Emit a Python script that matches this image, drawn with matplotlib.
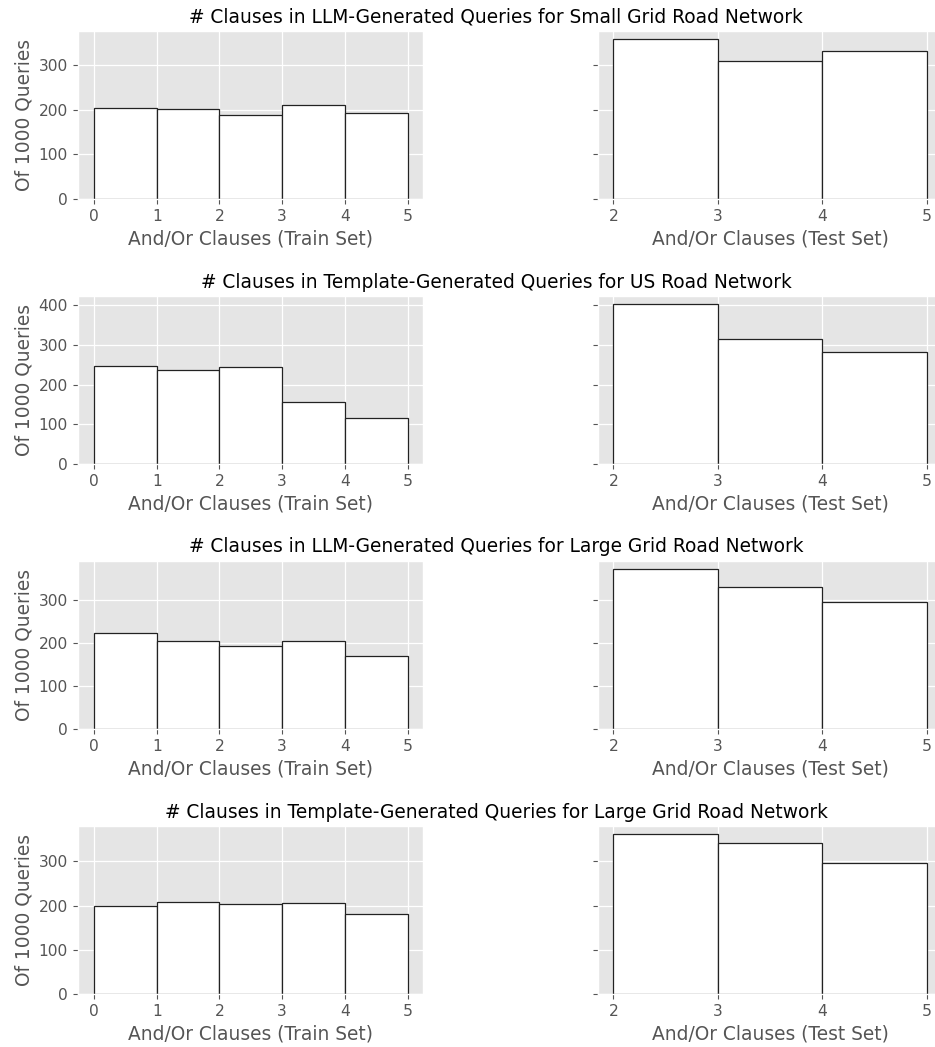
import numpy as np
from matplotlib import pyplot as plt

plt.style.use('ggplot')
scale = 1.115
plt.rcParams.update({
    'font.size': 10 * scale,
    'xtick.major.size': 3.5 * scale,
    'ytick.major.size': 3.5 * scale,
    'grid.linewidth': 0.8 * scale,
})

# Nombre de requêtes (sur 1000) par nombre de clauses And/Or
train_edges = [0, 1, 2, 3, 4, 5]
test_edges = [2, 3, 4, 5]

titles = [
    "# Clauses in LLM-Generated Queries for Small Grid Road Network",
    "# Clauses in Template-Generated Queries for US Road Network",
    "# Clauses in LLM-Generated Queries for Large Grid Road Network",
    "# Clauses in Template-Generated Queries for Large Grid Road Network",
]

small_grid_llm_train = [205, 201, 188, 212, 194]
small_grid_llm_test = [359, 310, 331]

us_template_train = [246, 238, 244, 155, 117]
us_template_test = [403, 314, 283]

large_grid_llm_train = [224, 206, 193, 206, 171]
large_grid_llm_test = [373, 332, 295]

large_grid_template_train = [200, 208, 204, 206, 182]
large_grid_template_test = [362, 341, 297]

train_counts = [small_grid_llm_train, us_template_train, large_grid_llm_train, large_grid_template_train]
test_counts = [small_grid_llm_test, us_template_test, large_grid_llm_test, large_grid_template_test]


def drawHistogram(ax, edges, counts):
    edges = np.array(edges)
    ax.bar(edges[:-1], counts, width=np.diff(edges), align='edge',
           color='white', edgecolor='#222222', linewidth=0.9)
    ax.set_xticks(edges)


W, H = 935, 1047
fig = plt.figure(figsize=(W / 100, H / 100), dpi=100)

row_tops = [31, 296, 561, 826]
row_h = 168
ax_w = 345
left_x, right_x = 78.3, 597.7

for i in range(4):
    bottom = (H - row_tops[i] - row_h) / H
    ax_train = fig.add_axes([left_x / W, bottom, ax_w / W, row_h / H])
    ax_test = fig.add_axes([right_x / W, bottom, ax_w / W, row_h / H], sharey=ax_train)

    drawHistogram(ax_train, train_edges, train_counts[i])
    drawHistogram(ax_test, test_edges, test_counts[i])

    ax_train.set_xlabel("And/Or Clauses (Train Set)")
    ax_test.set_xlabel("And/Or Clauses (Test Set)")
    ax_train.set_ylabel("Of 1000 Queries")
    ax_test.tick_params(axis='y', labelleft=False)

    fig.text(496 / W, 1 - (row_tops[i] - 14) / H, titles[i],
             ha='center', va='center', fontsize=12 * scale, color='black')

plt.savefig("out.png", dpi=100)
plt.close()
